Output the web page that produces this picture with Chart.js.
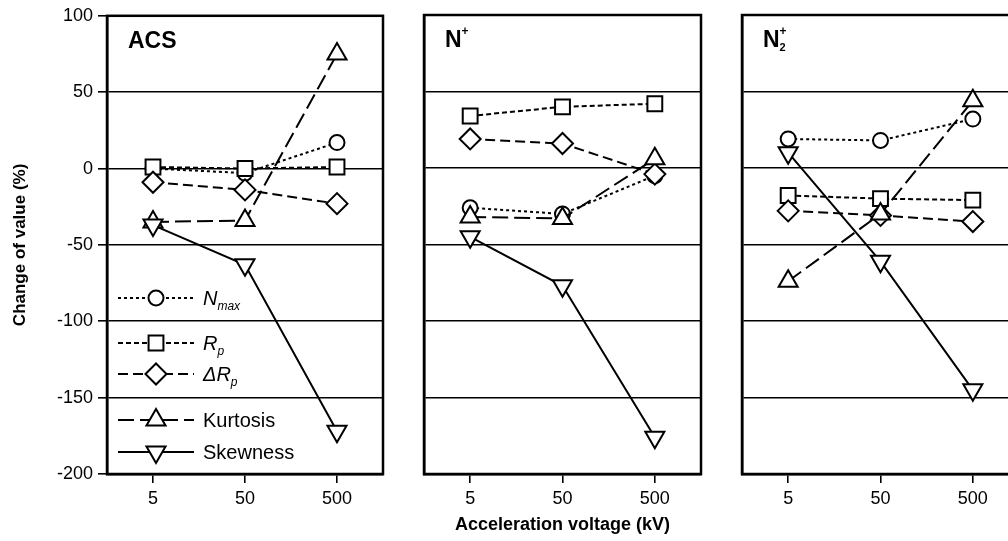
<!DOCTYPE html>
<html>
<head>
<meta charset="utf-8">
<script src="https://cdn.jsdelivr.net/npm/chart.js@4/dist/chart.umd.min.js"></script>
<style>
html, body { margin: 0; padding: 0; background: #fff; overflow: hidden; width: 1008px; height: 541px; }
.panel { position: absolute; top: 0; }
</style>
</head>
<body>
<div class="panel" style="left:0px"><canvas id="p1" width="396" height="541"></canvas></div>
<div class="panel" style="left:404px"><canvas id="p2" width="310" height="541"></canvas></div>
<div class="panel" style="left:722px"><canvas id="p3" width="310" height="541"></canvas></div>
<script>
const voltages = ['5', '50', '500'];
const yTicks = [100, 50, 0, -50, -100, -150, -200];
const seriesNames = ['Nmax', 'Rp', 'ΔRp', 'Kurtosis', 'Skewness'];

// ACS
const acsNmax = [0, -3, 17];
const acsRp = [1, 0, 1];
const acsDRp = [-9, -14, -23];
const acsKurt = [-35, -34, 75];
const acsSkew = [-37, -63, -172];

// N+
const nNmax = [-26, -30, -5];
const nRp = [34, 40, 42];
const nDRp = [19, 16, -4];
const nKurt = [-32, -33, 6];
const nSkew = [-45, -77, -176];

// N2+
const n2Nmax = [19, 18, 32];
const n2Rp = [-18, -20, -21];
const n2DRp = [-28, -31, -35];
const n2Kurt = [-74, -30, 44];
const n2Skew = [10, -61, -145];

const FONT = "'Liberation Sans', Arial, sans-serif";

// line + marker look of each series, same order as seriesNames
const looks = [
    { dash: [3, 3], pointStyle: 'circle', radius: 7.5, rotation: 0 },
    { dash: [5, 3], pointStyle: 'rect', radius: 10.5, rotation: 0 },
    { dash: [10, 5], pointStyle: 'rectRot', radius: 10.5, rotation: 0 },
    { dash: [16, 6], pointStyle: 'triangle', radius: 11, rotation: 0 },
    { dash: [], pointStyle: 'triangle', radius: 11, rotation: 180 }
];

// legend text pieces (main + subscript)
const legendText = [
    [['N', 'italic 20px ' + FONT, 0], ['max', 'italic 12px ' + FONT, 5]],
    [['R', 'italic 20px ' + FONT, 0], ['p', 'italic 12px ' + FONT, 5]],
    [['ΔR', 'italic 20px ' + FONT, 0], ['p', 'italic 12px ' + FONT, 5]],
    [['Kurtosis', '20px ' + FONT, 0]],
    [['Skewness', '20px ' + FONT, 0]]
];
const legendY = [298, 343, 374, 420, 452];

function makeDatasets(values) {
    return values.map(function(v, i) {
        const lk = looks[i];
        return {
            label: seriesNames[i],
            data: v,
            order: values.length - i, // later series on top
            borderColor: '#000',
            borderWidth: 2,
            borderDash: lk.dash,
            tension: 0,
            fill: false,
            clip: false,
            pointStyle: lk.pointStyle,
            pointRadius: lk.radius,
            pointRotation: lk.rotation,
            pointBackgroundColor: '#fff',
            pointBorderColor: '#000',
            pointBorderWidth: 2
        };
    });
}

// box around the plot area
const boxPlugin = {
    id: 'box',
    beforeDatasetsDraw: function(chart) {
        const a = chart.chartArea;
        const ctx = chart.ctx;
        ctx.save();
        ctx.strokeStyle = '#000';
        ctx.lineWidth = 2.5;
        ctx.strokeRect(a.left, a.top, a.right - a.left, a.bottom - a.top);
        ctx.restore();
    }
};

// panel name, e.g. ACS, N+, N2+
function namePlugin(parts) {
    return {
        id: 'name',
        afterDraw: function(chart) {
            const ctx = chart.ctx;
            let x = chart.chartArea.left + 21;
            const y = chart.chartArea.top + 32;
            ctx.save();
            ctx.fillStyle = '#000';
            ctx.textBaseline = 'alphabetic';
            parts.forEach(function(p) {
                ctx.font = p[1];
                ctx.fillText(p[0], x + (p[3] || 0), y + p[2]);
                if (!p[4]) x += ctx.measureText(p[0]).width;
            });
            ctx.restore();
        }
    };
}

const legendPlugin = {
    id: 'myLegend',
    afterDraw: function(chart) {
        const ctx = chart.ctx;
        ctx.save();
        looks.forEach(function(lk, i) {
            const y = legendY[i];
            ctx.strokeStyle = '#000';
            ctx.lineWidth = 2;
            ctx.setLineDash(lk.dash);
            ctx.beginPath();
            ctx.moveTo(118, y);
            ctx.lineTo(194, y);
            ctx.stroke();
            ctx.setLineDash([]);
            ctx.fillStyle = '#fff';
            ctx.strokeStyle = '#000';
            ctx.lineWidth = 2;
            Chart.helpers.drawPoint(ctx, {
                pointStyle: lk.pointStyle, radius: lk.radius, rotation: lk.rotation, borderWidth: 2
            }, 156, y);
            ctx.fillStyle = '#000';
            ctx.textBaseline = 'alphabetic';
            let x = 203;
            legendText[i].forEach(function(p) {
                ctx.font = p[1];
                ctx.fillText(p[0], x, y + 7 + p[2]);
                x += ctx.measureText(p[0]).width;
            });
        });
        ctx.restore();
    }
};

function spawnPanel(id, values, opts) {
    const plugins = [boxPlugin, namePlugin(opts.name)];
    if (opts.legend) plugins.push(legendPlugin);
    return new Chart(document.getElementById(id), {
        type: 'line',
        data: { labels: voltages, datasets: makeDatasets(values) },
        plugins: plugins,
        options: {
            responsive: false,
            animation: false,
            layout: { padding: { top: 15, right: 1, left: 0, bottom: 0 } },
            plugins: { legend: { display: false }, tooltip: { enabled: false } },
            scales: {
                x: {
                    type: 'category',
                    offset: true,
                    grid: { drawOnChartArea: false, drawTicks: true, tickLength: 9, color: '#000', lineWidth: 1.6 },
                    border: { display: true, color: '#000', width: 2.5 },
                    ticks: { color: '#000', font: { family: FONT, size: 18 }, padding: 5, maxRotation: 0 },
                    title: {
                        display: !!opts.xTitle,
                        text: 'Acceleration voltage (kV)',
                        color: '#000',
                        font: { family: FONT, size: 18, weight: 'bold' },
                        padding: { top: 0, bottom: 5 }
                    },
                    afterFit: function(s) { s.height = 67; }
                },
                y: {
                    min: -200,
                    max: 100,
                    afterBuildTicks: function(s) { s.ticks = yTicks.map(function(v) { return { value: v }; }); },
                    grid: { drawTicks: !!opts.yLabels, tickLength: 9, color: '#000', lineWidth: 1.6 },
                    border: { display: true, color: '#000', width: 2.5 },
                    ticks: { display: !!opts.yLabels, color: '#000', font: { family: FONT, size: 18 }, padding: 5 },
                    title: {
                        display: !!opts.yLabels,
                        text: 'Change of value (%)',
                        color: '#000',
                        font: { family: FONT, size: 17, weight: 'bold' },
                        padding: { top: 10, bottom: 0 }
                    },
                    afterFit: function(s) { s.width = opts.yWidth; }
                }
            }
        }
    });
}

spawnPanel('p1', [acsNmax, acsRp, acsDRp, acsKurt, acsSkew], {
    yLabels: true, yWidth: 107, legend: true,
    name: [['ACS', 'bold 23px ' + FONT, 0]]
});
spawnPanel('p2', [nNmax, nRp, nDRp, nKurt, nSkew], {
    yWidth: 20, xTitle: true,
    name: [['N', 'bold 23px ' + FONT, 0], ['+', 'bold 12px ' + FONT, -12]]
});
spawnPanel('p3', [n2Nmax, n2Rp, n2DRp, n2Kurt, n2Skew], {
    yWidth: 20,
    name: [['N', 'bold 23px ' + FONT, 0], ['2', 'bold 11px ' + FONT, 4, 0, true], ['+', 'bold 12px ' + FONT, -12]]
});
</script>
</body>
</html>
